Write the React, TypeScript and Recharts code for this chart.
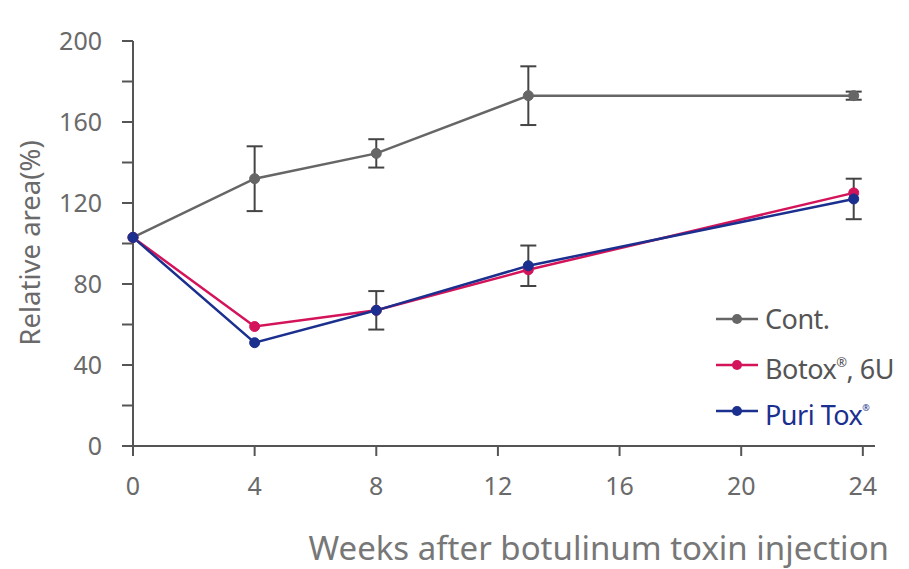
import { LineChart, Line, XAxis, YAxis, ErrorBar } from "recharts";

const weeks = [0, 4, 8, 13, 23.7];
const contMean = [103, 132, 144.5, 173, 173];
const contSd = [0, 16, 7, 14.5, 2];
const botoxMean = [103, 59, 67, 87, 125];
const puriMean = [103, 51, 67, 89, 122];
const puriSd = [0, 0, 9.5, 10, 10];

const xTicks = [0, 4, 8, 12, 16, 20, 24];
const yTicks = [0, 20, 40, 60, 80, 100, 120, 140, 160, 180, 200];

const seriesNames = ["Cont.", "Botox®, 6U", "Puri Tox®"];
const colors = ["#666666", "#d4145a", "#1b2f8e"];

const data = weeks.map((w, i) => ({
  week: w,
  cont: contMean[i],
  contSd: contSd[i],
  botox: botoxMean[i],
  puri: puriMean[i],
  puriSd: puriSd[i],
}));

const FONT = "'Noto Sans', 'Noto Sans CJK KR', sans-serif";
const AXIS = "#555555";
const TEXT = "#6a6a6a";

function LegendBox() {
  const labels = [
    <span>Cont.</span>,
    <span>
      Botox<sup style={{ fontSize: 13, verticalAlign: "12px" }}>®</sup>, 6U
    </span>,
    <span>
      Puri Tox<sup style={{ fontSize: 9, verticalAlign: "14px" }}>®</sup>
    </span>,
  ];
  return (
    <div style={{ fontFamily: FONT, whiteSpace: "nowrap" }}>
      {seriesNames.map((n, i) => (
        <div key={n} style={{ display: "flex", alignItems: "center", height: 46 }}>
          <svg width={46} height={14} style={{ marginRight: 5 }}>
            <line x1={2} x2={44} y1={7} y2={7} stroke={colors[i]} strokeWidth={2.5} />
            <circle cx={23} cy={7} r={5} fill={colors[i]} />
          </svg>
          <span
            style={{
              fontSize: 27,
              letterSpacing: -0.5,
              color: i === 2 ? colors[2] : "#555",
              lineHeight: "30px",
            }}
          >
            {labels[i]}
          </span>
        </div>
      ))}
    </div>
  );
}

export default function App() {
  return (
    <div style={{ position: "absolute", left: 0, top: 0, width: 909, height: 569, background: "#fff" }}>
      <LineChart
        width={909}
        height={569}
        data={data}
        margin={{ top: 41, right: 34, left: 73, bottom: 63 }}
      >
        <XAxis
          dataKey="week"
          type="number"
          domain={[0, 24.4]}
          ticks={xTicks}
          interval={0}
          stroke={AXIS}
          strokeWidth={2}
          tickSize={10}
          tickMargin={21}
          height={60}
          tick={{ fill: TEXT, fontSize: 25, fontFamily: FONT }}
        />
        <YAxis
          type="number"
          domain={[0, 200]}
          ticks={yTicks}
          interval={0}
          stroke={AXIS}
          strokeWidth={2}
          tickSize={11}
          tickMargin={20}
          width={60}
          tickFormatter={(v) => (v % 40 === 0 ? String(v) : "")}
          tick={{ fill: TEXT, fontSize: 25, fontFamily: FONT }}
        />
        <Line
          dataKey="cont"
          name={seriesNames[0]}
          stroke={colors[0]}
          strokeWidth={2.5}
          dot={{ r: 5, fill: colors[0], stroke: colors[0], strokeWidth: 1 }}
          isAnimationActive={false}
        >
          <ErrorBar dataKey="contSd" direction="y" width={8} stroke="#444" strokeWidth={2} />
        </Line>
        <Line
          dataKey="botox"
          name={seriesNames[1]}
          stroke={colors[1]}
          strokeWidth={2.5}
          dot={{ r: 5, fill: colors[1], stroke: colors[1], strokeWidth: 1 }}
          isAnimationActive={false}
        />
        <Line
          dataKey="puri"
          name={seriesNames[2]}
          stroke={colors[2]}
          strokeWidth={2.5}
          dot={{ r: 5, fill: colors[2], stroke: colors[2], strokeWidth: 1 }}
          isAnimationActive={false}
        >
          <ErrorBar dataKey="puriSd" direction="y" width={8} stroke="#444" strokeWidth={2} />
        </Line>
      </LineChart>
      <div style={{ position: "absolute", left: 714, top: 296 }}>
        <LegendBox />
      </div>
      <div
        style={{
          position: "absolute",
          left: 29,
          top: 243,
          transform: "translate(-50%, -50%) rotate(-90deg)",
          whiteSpace: "nowrap",
          fontFamily: FONT,
          fontSize: 27.5,
          color: TEXT,
        }}
      >
        Relative area(%)
      </div>
      <div
        style={{
          position: "absolute",
          right: 20,
          top: 525,
          whiteSpace: "nowrap",
          fontFamily: FONT,
          fontSize: 33,
          color: "#777",
        }}
      >
        Weeks after botulinum toxin injection
      </div>
    </div>
  );
}
